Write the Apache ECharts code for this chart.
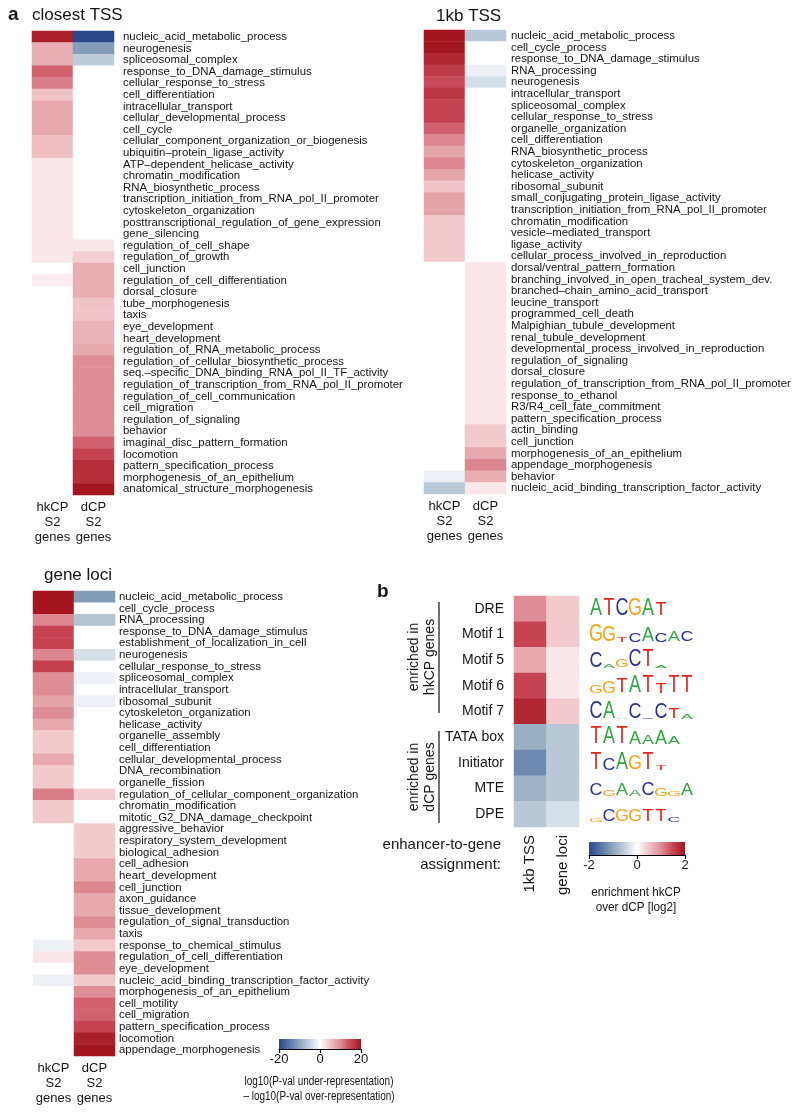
<!DOCTYPE html>
<html>
<head>
<meta charset="utf-8">
<script src="https://cdn.jsdelivr.net/npm/echarts@6/dist/echarts.min.js"></script>
<style>
  html, body { margin: 0; padding: 0; background: #fff; }
  #chart { width: 800px; height: 1118px; }
</style>
</head>
<body>
<div id="chart"></div>
<script>
// ---- data: GO term enrichment, log10(P under) - log10(P over) ----
const closestTerms = ['nucleic_acid_metabolic_process', 'neurogenesis', 'spliceosomal_complex', 'response_to_DNA_damage_stimulus',
  'cellular_response_to_stress', 'cell_differentiation', 'intracellular_transport', 'cellular_developmental_process', 'cell_cycle',
  'cellular_component_organization_or_biogenesis', 'ubiquitin\u2013protein_ligase_activity', 'ATP\u2013dependent_helicase_activity',
  'chromatin_modification', 'RNA_biosynthetic_process', 'transcription_initiation_from_RNA_pol_II_promoter', 'cytoskeleton_organization',
  'posttranscriptional_regulation_of_gene_expression', 'gene_silencing', 'regulation_of_cell_shape', 'regulation_of_growth',
  'cell_junction', 'regulation_of_cell_differentiation', 'dorsal_closure', 'tube_morphogenesis', 'taxis', 'eye_development',
  'heart_development', 'regulation_of_RNA_metabolic_process', 'regulation_of_cellular_biosynthetic_process',
  'seq.\u2013specific_DNA_binding_RNA_pol_II_TF_activity', 'regulation_of_transcription_from_RNA_pol_II_promoter',
  'regulation_of_cell_communication', 'cell_migration', 'regulation_of_signaling', 'behavior', 'imaginal_disc_pattern_formation',
  'locomotion', 'pattern_specification_process', 'morphogenesis_of_an_epithelium', 'anatomical_structure_morphogenesis'];
const closestHk = [19, 7, 7, 13, 11, 5, 7.5, 7.5, 7.5, 5.5, 5.5, 2, 2, 2, 2, 2, 2, 2, 2, 2,
  0, 1.5, 0, 0, 0, 0, 0, 0, 0, 0, 0, 0, 0, 0, 0, 0, 0, 0, 0, 0];
const closestDcp = [-20, -11, -5.5, 0, 0, 0, 0, 0, 0, 0, 0, 0, 0, 0, 0, 0, 0, 0, 2, 4,
  7, 7, 7, 5, 5, 6.5, 6.5, 7.5, 10, 10, 10, 10, 10, 10, 10, 13, 15, 17.5, 17.5, 20];

const tssTerms = ['nucleic_acid_metabolic_process', 'cell_cycle_process', 'response_to_DNA_damage_stimulus', 'RNA_processing',
  'neurogenesis', 'intracellular_transport', 'spliceosomal_complex', 'cellular_response_to_stress', 'organelle_organization',
  'cell_differentiation', 'RNA_biosynthetic_process', 'cytoskeleton_organization', 'helicase_activity', 'ribosomal_subunit',
  'small_conjugating_protein_ligase_activity', 'transcription_initiation_from_RNA_pol_II_promoter', 'chromatin_modification',
  'vesicle\u2013mediated_transport', 'ligase_activity', 'cellular_process_involved_in_reproduction', 'dorsal/ventral_pattern_formation',
  'branching_involved_in_open_tracheal_system_dev.', 'branched\u2013chain_amino_acid_transport', 'leucine_transport',
  'programmed_cell_death', 'Malpighian_tubule_development', 'renal_tubule_development', 'developmental_process_involved_in_reproduction',
  'regulation_of_signaling', 'dorsal_closure', 'regulation_of_transcription_from_RNA_pol_II_promoter', 'response_to_ethanol',
  'R3/R4_cell_fate_commitment', 'pattern_specification_process', 'actin_binding', 'cell_junction', 'morphogenesis_of_an_epithelium',
  'appendage_morphogenesis', 'behavior', 'nucleic_acid_binding_transcription_factor_activity'];
const tssHk = [20, 20, 18, 16, 14.5, 16.5, 15, 15, 13, 10.5, 8, 10.5, 8, 5, 8, 8, 4.5, 4.5, 4.5, 4.5,
  0, 0, 0, 0, 0, 0, 0, 0, 0, 0, 0, 0, 0, 0, 0, 0, 0, 0, -1.5, -6];
const tssDcp = [-6, 0, 0, -1.5, -3.5, 0, 0, 0, 0, 0, 0, 0, 0, 0, 0, 0, 0, 0, 0, 0,
  2, 2, 2, 2, 2, 2, 2, 2, 2, 2, 2, 2, 2, 2, 4.5, 4.5, 7.5, 10.5, 7, 2];

const lociTerms = ['nucleic_acid_metabolic_process', 'cell_cycle_process', 'RNA_processing', 'response_to_DNA_damage_stimulus',
  'establishment_of_localization_in_cell', 'neurogenesis', 'cellular_response_to_stress', 'spliceosomal_complex',
  'intracellular_transport', 'ribosomal_subunit', 'cytoskeleton_organization', 'helicase_activity', 'organelle_assembly',
  'cell_differentiation', 'cellular_developmental_process', 'DNA_recombination', 'organelle_fission',
  'regulation_of_cellular_component_organization', 'chromatin_modification', 'mitotic_G2_DNA_damage_checkpoint',
  'aggressive_behavior', 'respiratory_system_development', 'biological_adhesion', 'cell_adhesion', 'heart_development',
  'cell_junction', 'axon_guidance', 'tissue_development', 'regulation_of_signal_transduction', 'taxis',
  'response_to_chemical_stimulus', 'regulation_of_cell_differentiation', 'eye_development',
  'nucleic_acid_binding_transcription_factor_activity', 'morphogenesis_of_an_epithelium', 'cell_motility', 'cell_migration',
  'pattern_specification_process', 'locomotion', 'appendage_morphogenesis'];
const lociHk = [20, 20, 10.5, 15, 15, 10.5, 15.5, 10, 10, 8, 10, 7.5, 4.5, 4.5, 7.5, 4.5, 4.5, 11, 4.5, 4.5,
  0, 0, 0, 0, 0, 0, 0, 0, 0, 0, -1.5, 2, 0, -1.5, 0, 0, 0, 0, 0, 0];
const lociDcp = [-11, 0, -6.5, 0, 0, -3.5, 0, -1.5, 0, -1.5, 0, 0, 0, 0, 0, 0, 0, 4, 0, 0,
  4.5, 4.5, 4.5, 7.5, 7.5, 10.5, 7.5, 7.5, 10, 7.5, 4.5, 10, 10, 4.5, 10, 13, 13, 15, 19, 20];

const goColLabels = ['hkCP\nS2\ngenes', 'dCP\nS2\ngenes'];
const goTicks = [-20, 0, 20];

// ---- data: motif enrichment hkCP over dCP [log2] ----
const motifNames = ['DRE', 'Motif 1', 'Motif 5', 'Motif 6', 'Motif 7', 'TATA box', 'Initiator', 'MTE', 'DPE'];
const motifCols = ['1kb TSS', 'gene loci'];
const motifTss = [1.0, 1.5, 0.75, 1.5, 1.8, -0.9, -1.3, -0.85, -0.6];
const motifLoci = [0.45, 0.45, 0.2, 0.2, 0.45, -0.6, -0.6, -0.6, -0.35];
const motifTicks = [-2, 0, 2];
// sequence logos: letter + relative height
const motifLogos = [
  [['A', 1], ['T', 1], ['C', 1], ['G', 1], ['A', 1], ['T', 0.8]],
  [['G', 1], ['G', 0.95], ['T', 0.3], ['C', 0.55], ['A', 0.9], ['C', 0.55], ['A', 0.6], ['C', 0.6]],
  [['C', 0.95], ['A', 0.2], ['G', 0.45], ['C', 1], ['T', 1], ['A', 0.15]],
  [['G', 0.5], ['G', 0.75], ['T', 0.9], ['A', 1], ['T', 1], ['T', 0.6], ['T', 1], ['T', 1]],
  [['C', 1], ['A', 1], ['A', 0.08], ['C', 0.95], ['C', 0.08], ['C', 0.95], ['T', 0.6], ['A', 0.35]],
  [['T', 1], ['A', 1], ['T', 1], ['A', 0.8], ['A', 0.55], ['A', 0.85], ['A', 0.5]],
  [['T', 1], ['C', 0.7], ['A', 1], ['G', 0.85], ['T', 1], ['T', 0.3]],
  [['C', 0.75], ['G', 0.4], ['A', 0.75], ['A', 0.4], ['C', 0.8], ['G', 0.45], ['G', 0.35], ['A', 0.7]],
  [['G', 0.25], ['C', 0.7], ['G', 0.7], ['G', 0.7], ['T', 0.75], ['T', 0.75], ['C', 0.3]]
];

const palette = ['#2a4888', '#5877a3', '#8ea6be', '#c3d1dc', '#ffffff', '#f0c3c8', '#de8d96', '#c64452', '#a3161f'];
const baseColors = { A: '#33a744', C: '#2b3192', G: '#f6a31c', T: '#e2231a' };
const FONT = "'Liberation Sans', Arial, Helvetica, sans-serif";
const INK = '#151515';

let myChart = echarts.init(document.getElementById('chart'));

let grids = [], xAxes = [], yAxes = [], series = [];

function goPanel(terms, hk, dcp, box, labelGap) {
  let gi = grids.length;
  grids.push(box);
  xAxes.push({
    gridIndex: gi, type: 'category', data: goColLabels, position: 'bottom',
    axisLine: { show: false }, axisTick: { show: false },
    axisLabel: { interval: 0, fontSize: 13, lineHeight: 15, margin: 5, color: INK, fontFamily: FONT }
  });
  yAxes.push({
    gridIndex: gi, type: 'category', data: terms, inverse: true, position: 'right',
    axisLine: { show: false }, axisTick: { show: false },
    axisLabel: { interval: 0, fontSize: 11.4, margin: labelGap, color: INK, fontFamily: FONT }
  });
  let data = [];
  hk.forEach((v, i) => data.push([0, i, v]));
  dcp.forEach((v, i) => data.push([1, i, v]));
  series.push({
    type: 'heatmap', xAxisIndex: gi, yAxisIndex: gi, data: data,
    itemStyle: { borderWidth: 0 }, emphasis: { disabled: true }
  });
}

goPanel(closestTerms, closestHk, closestDcp, { left: 32, top: 31, width: 82, height: 464 }, 9);
goPanel(tssTerms, tssHk, tssDcp, { left: 424, top: 30, width: 82, height: 464 }, 5);
goPanel(lociTerms, lociHk, lociDcp, { left: 33, top: 591, width: 82, height: 465 }, 4);

// motif panel
grids.push({ left: 514, top: 596, width: 65, height: 231 });
xAxes.push({
  gridIndex: 3, type: 'category', data: motifCols, position: 'bottom',
  axisLine: { show: false }, axisTick: { show: false },
  axisLabel: { interval: 0, fontSize: 15, rotate: 90, margin: 8, color: INK, fontFamily: FONT }
});
yAxes.push({
  gridIndex: 3, type: 'category', data: motifNames, inverse: true, position: 'left',
  axisLine: { show: false }, axisTick: { show: false },
  axisLabel: { interval: 0, fontSize: 14, margin: 10, color: INK, fontFamily: FONT }
});
let motifData = [];
motifTss.forEach((v, i) => motifData.push([0, i, v]));
motifLoci.forEach((v, i) => motifData.push([1, i, v]));
series.push({
  type: 'heatmap', xAxisIndex: 3, yAxisIndex: 3, data: motifData,
  itemStyle: { borderWidth: 0 }, emphasis: { disabled: true }
});

// colour bar axes (ticks + labels)
function barAxis(box, ticks) {
  let gi = grids.length;
  grids.push(box);
  xAxes.push({
    gridIndex: gi, type: 'value', min: ticks[0], max: ticks[ticks.length - 1], interval: ticks[1] - ticks[0],
    position: 'bottom', splitLine: { show: false },
    axisLine: { show: true, lineStyle: { color: '#000', width: 1.2 } },
    axisTick: { show: true, length: 4, lineStyle: { color: '#000', width: 1.2 } },
    axisLabel: { fontSize: 13, margin: 4, color: INK, fontFamily: FONT }
  });
  yAxes.push({ gridIndex: gi, type: 'value', show: false, min: 0, max: 1 });
}
const goBar = { left: 279, top: 1039, width: 82, height: 10 };
const motifBar = { left: 589, top: 842, width: 96, height: 13 };
barAxis(goBar, goTicks);
barAxis(motifBar, motifTicks);

function gradRect(b) {
  return {
    type: 'rect', z: -1,
    shape: { x: b.left, y: b.top, width: b.width, height: b.height },
    style: {
      fill: new echarts.graphic.LinearGradient(0, 0, 1, 0,
        palette.map((c, i) => ({ offset: i / (palette.length - 1), color: c })))
    }
  };
}

function txt(s, x, y, size, extra, sx) {
  return {
    type: 'text', x: x, y: y, scaleX: sx || 1,
    style: Object.assign({ text: s, fontSize: size, fontFamily: FONT, fill: INK, verticalAlign: 'middle' }, extra || {})
  };
}

let graphics = [
  txt('a', 8, 15, 19, { fontWeight: 'bold' }),
  txt('closest TSS', 32, 15, 17),
  txt('1kb TSS', 436, 16, 17),
  txt('gene loci', 44, 575, 17),
  txt('b', 377, 592, 19, { fontWeight: 'bold' }),
  txt('enhancer-to-gene', 501, 845, 15, { align: 'right' }),
  txt('assignment:', 501, 865, 15, { align: 'right' }),
  txt('log10(P-val under-representation)', 319, 1082, 12, { align: 'center' }, 0.83),
  txt('\u2013 log10(P-val over-representation)', 319, 1097, 12, { align: 'center' }, 0.83),
  txt('enrichment hkCP', 636, 892, 13, { align: 'center' }, 0.9),
  txt('over dCP [log2]', 636, 907, 13, { align: 'center' }, 0.9),
  gradRect(goBar), gradRect(motifBar),
  { type: 'line', shape: { x1: 439, y1: 602, x2: 439, y2: 713 }, style: { stroke: '#111', lineWidth: 1.2 } },
  { type: 'line', shape: { x1: 439, y1: 731, x2: 439, y2: 823 }, style: { stroke: '#111', lineWidth: 1.2 } },
  {
    type: 'text', x: 422, y: 657, rotation: Math.PI / 2,
    style: { text: 'enriched in\nhkCP genes', fontSize: 14, lineHeight: 16, fontFamily: FONT, fill: INK, align: 'center', verticalAlign: 'middle' }
  },
  {
    type: 'text', x: 422, y: 777, rotation: Math.PI / 2,
    style: { text: 'enriched in\ndCP genes', fontSize: 14, lineHeight: 16, fontFamily: FONT, fill: INK, align: 'center', verticalAlign: 'middle' }
  }
];

// sequence logos
const rowH = 231 / motifNames.length;
const LOGO_FS = 23;
motifLogos.forEach((logo, r) => {
  let base = 596 + (r + 0.5) * rowH + 8;
  logo.forEach((p, j) => {
    graphics.push({
      type: 'text', x: 596 + j * 13, y: base, scaleX: 0.78, scaleY: p[1],
      style: {
        text: p[0], fontSize: LOGO_FS, fontFamily: FONT, fill: baseColors[p[0]],
        align: 'center', verticalAlign: 'middle', y: -0.35 * LOGO_FS
      }
    });
  });
});

let option = {
  backgroundColor: '#fff',
  animation: false,
  grid: grids,
  xAxis: xAxes,
  yAxis: yAxes,
  visualMap: [
    { type: 'continuous', show: false, min: -20, max: 20, dimension: 2, seriesIndex: [0, 1, 2], inRange: { color: palette } },
    { type: 'continuous', show: false, min: -2, max: 2, dimension: 2, seriesIndex: [3], inRange: { color: palette } }
  ],
  graphic: graphics,
  series: series
};
myChart.setOption(option);
</script>
</body>
</html>
